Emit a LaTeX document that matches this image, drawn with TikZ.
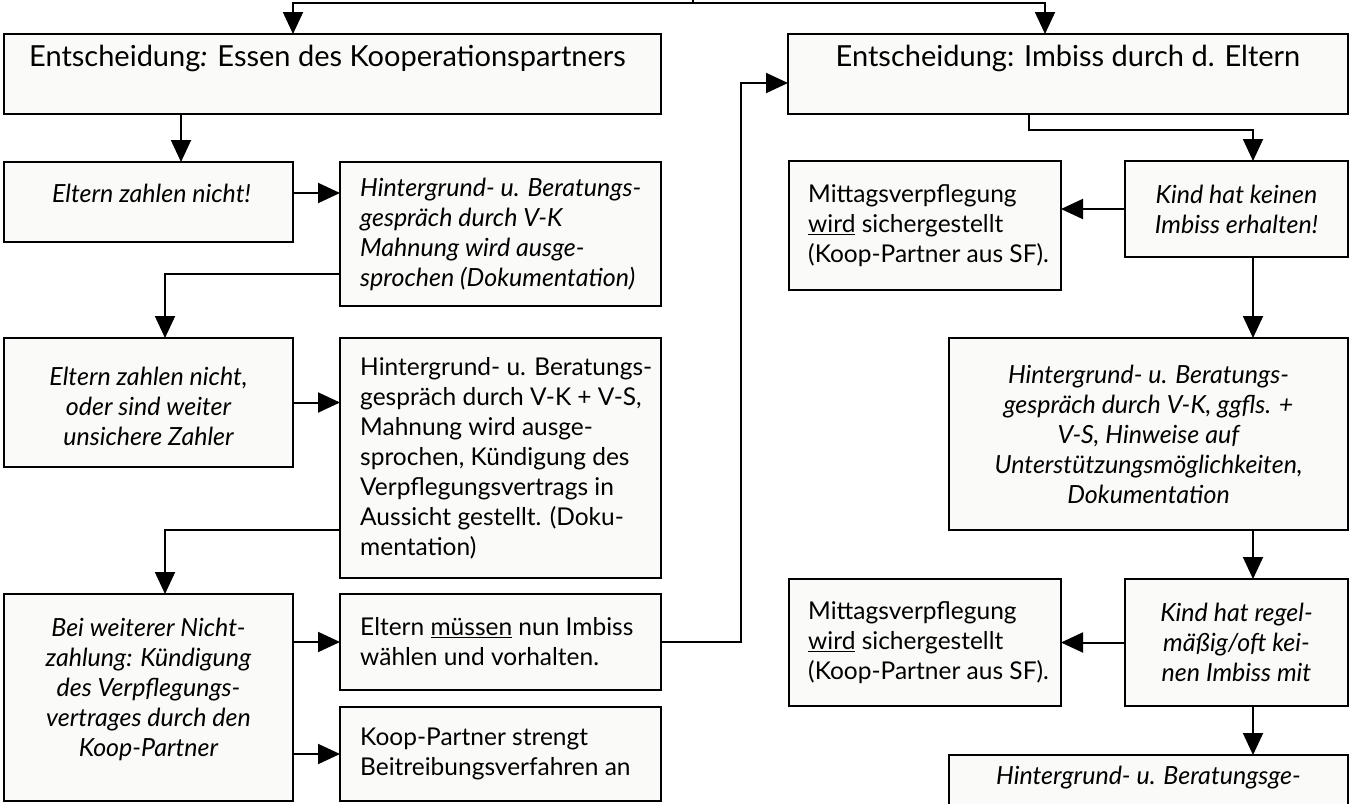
\documentclass[tikz,border=0pt]{standalone}
\usepackage{fontspec}
\setmainfont{Lato}
\usetikzlibrary{positioning,arrows.meta}
\definecolor{boxfill}{RGB}{250,250,248}

\begin{document}
\begin{tikzpicture}
      [%%%%%%%%%%%%%%%%%%%%%%%%%%%%%%
      x=1pt, y=-1pt,
      box/.style={rectangle,draw=black,line width=2.2pt,fill=boxfill,anchor=north west,inner sep=0pt,outer sep=0pt},
      txt/.style={inner sep=0pt,align=left,font=\fontsize{24.5}{30}\selectfont},
      itx/.style={inner sep=0pt,align=center,font=\fontsize{25}{30}\selectfont\itshape},
      big/.style={inner sep=0pt,font=\fontsize{29}{34}\selectfont},
      line/.style={line width=2pt},
      arr/.style={line width=2pt,-{Triangle[length=22pt,width=20pt]}},
      ]%%%%%%%%%%%%%%%%%%%%%%%%%%%%%%

      \useasboundingbox (0,0) rectangle (1351,803);
      \clip (0,0) rectangle (1351,803);

      % left column
      \node[box,minimum width=657pt,minimum height=80pt ] (essen) at (4,34){};
      \node[box,minimum width=289pt,minimum height=80pt ] (nichtzahl) at (4,162){};
      \node[box,minimum width=321pt,minimum height=144pt] (gespr1) at (340,162){};
      \node[box,minimum width=289pt,minimum height=129pt] (unsicher) at (4,338){};
      \node[box,minimum width=321pt,minimum height=240pt] (gespr2) at (340,338){};
      \node[box,minimum width=289pt,minimum height=207pt] (kuendig) at (4,594){};
      \node[box,minimum width=321pt,minimum height=96pt ] (wahl) at (340,594){};
      \node[box,minimum width=321pt,minimum height=94pt ] (beitreib) at (340,707){};

      % right column
      \node[box,minimum width=560pt,minimum height=80pt ] (imbiss) at (788,34){};
      \node[box,minimum width=272pt,minimum height=129pt] (mittag1) at (789,161){};
      \node[box,minimum width=223pt,minimum height=96pt ] (keinimb) at (1125,161){};
      \node[box,minimum width=399pt,minimum height=192pt] (gespr3) at (949,338){};
      \node[box,minimum width=272pt,minimum height=127pt] (mittag2) at (789,579){};
      \node[box,minimum width=223pt,minimum height=127pt] (oftkein) at (1125,579){};
      \node[box,minimum width=399pt,minimum height=150pt] (gespr4) at (949,755){};

      % texts
      \node[big] (essen-t) at ([xshift=-5pt,yshift=16pt]essen.center){Entscheidung\textit{:} Essen des Kooperationspartners};
      \node[big] (imbiss-t) at ([yshift=16pt]imbiss.center){Entscheidung: Imbiss durch d. Eltern};
      \node[itx] (nichtzahl-t) at ([xshift=3pt,yshift=9pt]nichtzahl.center){Eltern zahlen nicht!};
      \node[itx,align=left,anchor=west,right=20pt of gespr1.west] (gespr1-t){Hintergrund- u. Beratungs-\\gespräch durch V-K\\Mahnung wird ausge-\\sprochen (Dokumentation)};
      \node[itx] (unsicher-t) at ([yshift=-4pt]unsicher.center){Eltern zahlen nicht,\\oder sind weiter\\unsichere Zahler};
      \node[txt,anchor=west,right=20pt of gespr2.west] (gespr2-t){Hintergrund- u. Beratungs-\\gespräch durch V-K + V-S,\\Mahnung wird ausge-\\sprochen, Kündigung des\\Verpflegungsvertrags in\\Aussicht gestellt. (Doku-\\mentation)};
      \node[itx] (kuendig-t) at ([yshift=8pt]kuendig.center){Bei weiterer Nicht-\\zahlung: Kündigung\\des Verpflegungs-\\vertrages durch den\\Koop-Partner};
      \node[txt,anchor=west,right=20pt of wahl.west] (wahl-t){Eltern \underline{müssen} nun Imbiss\\wählen und vorhalten.};
      \node[txt,anchor=west,right=20pt of beitreib.west] (beitreib-t){Koop-Partner strengt\\Beitreibungsverfahren an};
      \node[txt,anchor=west,right=19pt of mittag1.west] (mittag1-t){Mittagsverpflegung\\\underline{wird} sichergestellt\\(Koop-Partner aus SF).};
      \node[itx] (keinimb-t) at (keinimb.center){Kind hat keinen\\Imbiss erhalten!};
      \node[itx] (gespr3-t) at (gespr3.center){Hintergrund- u. Beratungs-\\gespräch durch V-K, ggfls. +\\V-S, Hinweise auf\\Unterstützungsmöglichkeiten,\\Dokumentation};
      \node[txt,anchor=west,right=19pt of mittag2.west] (mittag2-t){Mittagsverpflegung\\\underline{wird} sichergestellt\\(Koop-Partner aus SF).};
      \node[itx] (oftkein-t) at (oftkein.center){Kind hat regel-\\mäßig/oft kei-\\nen Imbiss mit};
      \node[itx] (gespr4-t) at ([yshift=-23pt]gespr4.north){Hintergrund- u. Beratungsge-};

      % lanes for the connectors
      \coordinate (src) at (693,-4);
      \coordinate (fork) at (693,3);
      \coordinate (laneA) at (293,0);
      \coordinate (laneB) at (1045,0);
      \coordinate (laneC) at (181,0);
      \coordinate (laneL) at (165,0);
      \coordinate (laneM) at (741,0);
      \coordinate (laneR) at (1253,0);

      \draw[line] (src) -- (fork);
      \draw[arr] (fork) -| (essen.north -| laneA);
      \draw[arr] (fork) -| (imbiss.north -| laneB);

      \draw[arr] (essen.south -| laneC) -- (nichtzahl.north -| laneC);
      \draw[arr] ([yshift=-31pt]nichtzahl.north east) -- ([yshift=-31pt]gespr1.north west);
      \draw[arr] ([yshift=-112pt]gespr1.north west) -| (unsicher.north -| laneL);
      \draw[arr] (unsicher.east) -- (unsicher.east -| gespr2.west);
      \draw[arr] ([yshift=-192pt]gespr2.north west) -| (kuendig.north -| laneL);
      \draw[arr] (kuendig.east |- wahl.west) -- (wahl.west);
      \draw[arr] (kuendig.east |- beitreib.west) -- (beitreib.west);
      \draw[arr] (wahl.east) -- (wahl.east -| laneM) |- ([yshift=-49pt]imbiss.north west);

      \draw[arr] ([xshift=241pt]imbiss.south west) -- ++(0,16) -| (keinimb.north -| laneR);
      \draw[arr] (keinimb.west) -- (keinimb.west -| mittag1.east);
      \draw[arr] (keinimb.south -| laneR) -- (gespr3.north -| laneR);
      \draw[arr] (gespr3.south -| laneR) -- (oftkein.north -| laneR);
      \draw[arr] (oftkein.west) -- (oftkein.west -| mittag2.east);
      \draw[arr] (oftkein.south -| laneR) -- (gespr4.north -| laneR);
    \end{tikzpicture}
\end{document}
